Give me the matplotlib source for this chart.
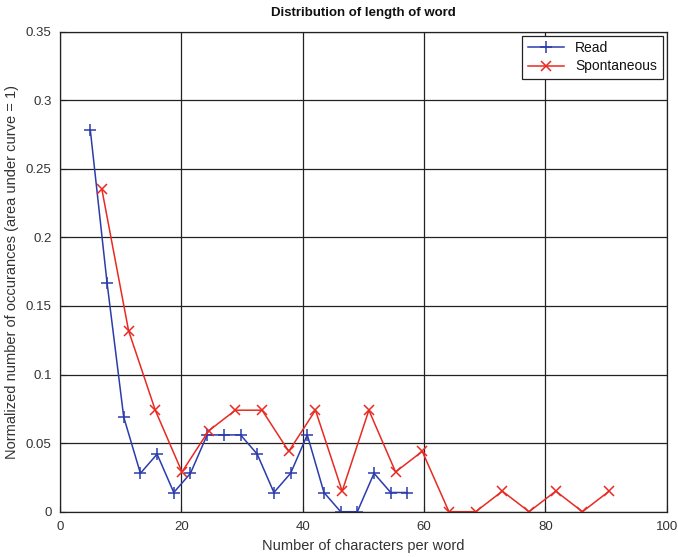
import matplotlib.pyplot as plt

# Dati
read_x = [5.0, 7.75, 10.5, 13.25, 16.0, 18.75, 21.5, 24.25, 27.0, 29.75,
          32.5, 35.25, 38.0, 40.75, 43.5, 46.25, 49.0, 51.75, 54.5, 57.25]
read_y = [0.278, 0.167, 0.069, 0.028, 0.042, 0.014, 0.028, 0.056, 0.056, 0.056,
          0.042, 0.014, 0.028, 0.056, 0.014, 0.0, 0.0, 0.028, 0.014, 0.014]

spont_x = [6.9, 11.3, 15.7, 20.1, 24.5, 28.9, 33.3, 37.7, 42.1, 46.5,
           50.9, 55.3, 59.7, 64.1, 68.5, 72.9, 77.3, 81.7, 86.1, 90.5]
spont_y = [0.235, 0.132, 0.074, 0.029, 0.059, 0.074, 0.074, 0.044, 0.074, 0.015,
           0.074, 0.029, 0.044, 0.0, 0.0, 0.015, 0.0, 0.015, 0.0, 0.015]

xticks = [0, 20, 40, 60, 80, 100]
yticks = [0, 0.05, 0.1, 0.15, 0.2, 0.25, 0.3, 0.35]

plt.rcParams['font.family'] = ['Liberation Sans', 'DejaVu Sans']
plt.rcParams['font.size'] = 9.5
text_col = '#333333'

fig = plt.figure(figsize=(6.78, 5.57), dpi=100)
ax = fig.add_axes([0.0885, 0.0813, 0.895, 0.862])

ax.plot(read_x, read_y, color='#2b3cab', marker='+', markersize=8,
        markeredgewidth=1.1, linewidth=1.1, label='Read')
ax.plot(spont_x, spont_y, color='#e82a22', marker='x', markersize=7,
        markeredgewidth=1.1, linewidth=1.1, label='Spontaneous')

ax.set_xlim(0, 100)
ax.set_ylim(0, 0.35)
ax.set_xticks(xticks)
ax.set_yticks(yticks)
ax.set_yticklabels(['0', '0.05', '0.1', '0.15', '0.2', '0.25', '0.3', '0.35'])

# Griglia continua stile MATLAB
ax.grid(True, color='#222222', linestyle='-', linewidth=0.9)
ax.set_axisbelow(True)
ax.tick_params(direction='in', length=4, color='#222222', labelsize=9.5,
               labelcolor=text_col)
ax.tick_params(axis='x', pad=7)
ax.tick_params(axis='y', pad=6)
for s in ax.spines.values():
    s.set_color('#222222')
    s.set_linewidth(0.9)

ax.set_title('Distribution of length of word', fontweight='bold', fontsize=9.5,
             pad=11, color='#111111')
ax.set_xlabel('Number of characters per word', fontsize=10.5, labelpad=4, color=text_col)
ax.set_ylabel('Normalized number of occurances (area under curve = 1)', fontsize=10.5,
              labelpad=5, color=text_col)

leg = ax.legend(loc='upper right', fancybox=False, framealpha=1, edgecolor='#222222',
                fontsize=10, borderaxespad=0.3, handlelength=2.6, labelspacing=0.3)
leg.get_frame().set_linewidth(0.9)
for t in leg.get_texts():
    t.set_color('#111111')

plt.savefig('out.png', dpi=100)
plt.close()
